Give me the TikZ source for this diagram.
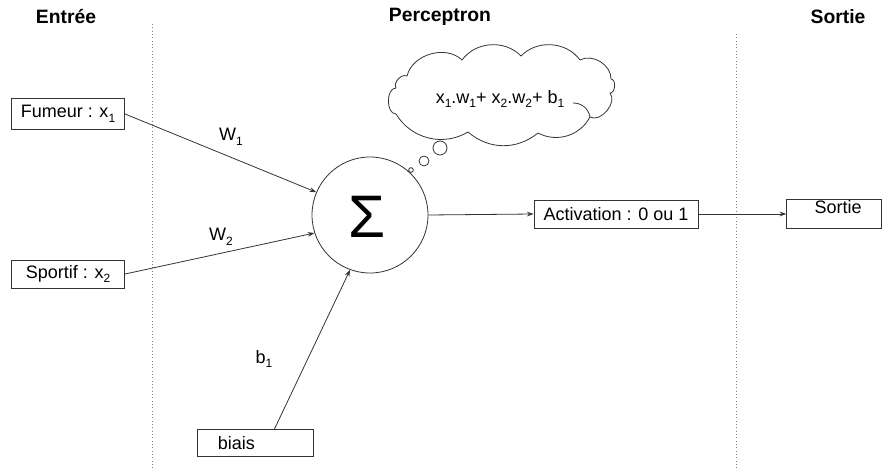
\documentclass[tikz,border=0pt]{standalone}
\usepackage{fontspec}
\setmainfont{Liberation Sans}
\usetikzlibrary{arrows.meta}
\newcommand\lowidx[1]{\raisebox{-0.5ex}{\fontsize{9}{9}\selectfont #1}}
\begin{document}
\begin{tikzpicture}[x=0.75pt,y=-0.75pt,
  lin/.style={draw=black!80,line width=0.6pt},
  arr/.style={lin,-{Stealth[length=5pt,width=3.5pt]}},
  box/.style={draw=black!80,line width=0.6pt,rectangle,inner sep=0pt,font=\fontsize{13.5}{14}\selectfont},
  head/.style={font=\bfseries\fontsize{14.5}{15}\selectfont},
  lbl/.style={font=\fontsize{13.5}{14}\selectfont},
  sep/.style={draw=black!50,line width=0.5pt,dotted},
  bub/.style={draw=black!80,line width=0.6pt,circle,inner sep=0pt}]
\useasboundingbox (0,0) rectangle (892,470);
% headers
\node[head] (hin) at (66,17) {Entrée};
\node[head] (hper) at (440,17) {Perceptron};
\node[head] (hout) at (838,17) {Sortie};
% separators
\coordinate (s1t) at (152,24); \coordinate (s1b) at (152,470);
\coordinate (s2t) at (736,34); \coordinate (s2b) at (736,470);
\draw[sep] (s1t) -- (s1b);
\draw[sep] (s2t) -- (s2b);
% boxes
\node[box,minimum width=85pt,minimum height=23pt] (fum) at (68,114) {Fumeur : x\lowidx{1}};
\node[box,minimum width=85pt,minimum height=21pt] (spo) at (68,274) {Sportif : x\lowidx{2}};
\node[box,minimum width=87pt,minimum height=20pt] (bia) at (255,443) {\hspace*{-28pt}biais};
\node[box,minimum width=123pt,minimum height=21pt] (act) at (616,214) {Activation : 0 ou 1};
\node[box,minimum width=71pt,minimum height=22pt,text depth=10pt,text height=9pt] (sor) at (834,214) {\hspace*{6pt}Sortie};
% neuron
\node[draw=black!80,line width=0.6pt,circle,minimum size=87pt,inner sep=0pt] (sum) at (370,215) {};
\node[font=\fontsize{45}{45}\selectfont] (sig) at (367,217) {Σ};
% cloud
\coordinate (cA) at (407,76);
\coordinate (cB) at (462,60);
\coordinate (cC) at (521,56);
\coordinate (cD) at (580,60);
\coordinate (cE) at (611,79);
\coordinate (cF) at (610,93);
\coordinate (cG) at (590,117);
\coordinate (cH) at (538,133);
\coordinate (cI) at (468,132);
\coordinate (cJ) at (396,114);
\coordinate (cK) at (396,88);
\coordinate (cL) at (573,103);
\draw[lin,line join=round] (cA) to[bend left=60] (cB) to[bend left=50] (cC) to[bend left=50] (cD)
  to[bend left=60] (cE) to[bend left=90] (cF) to[bend left=80] (cG) to[bend left=45] (cH)
  to[bend left=40] (cI) to[bend left=45] (cJ) to[bend left=90] (cK) to[bend left=70] (cA) -- cycle;
\draw[lin] (cG) to[bend right=40] (cL);
\node[lbl] (form) at (500,99) {x\lowidx{1}.w\lowidx{1}+ x\lowidx{2}.w\lowidx{2}+ b\lowidx{1}};
\node[bub,minimum size=10.5pt] (b1) at (440,148) {};
\node[bub,minimum size=7.5pt] (b2) at (424,161) {};
\node[bub,minimum size=3.5pt] (b3) at (411,170) {};
% connectors
\draw[arr] (fum.east) -- (sum.157);
\draw[arr] (spo.east) -- (sum.198);
\coordinate (bst) at (274,430);
\draw[arr] (bst) -- (sum.250);
\draw[arr] (sum.east) -- (act.west);
\draw[arr] (act.east) -- (sor.west);
% labels
\node[lbl] (w1) at (231,137) {W\lowidx{1}};
\node[lbl] (w2) at (221,237) {W\lowidx{2}};
\node[lbl] (bl) at (264,359) {b\lowidx{1}};
\end{tikzpicture}
\end{document}
